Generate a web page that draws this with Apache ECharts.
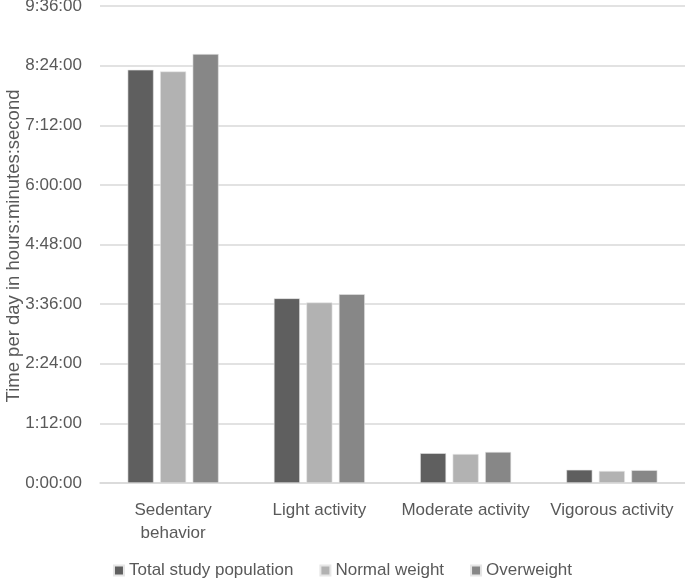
<!DOCTYPE html>
<html><head><meta charset="utf-8">
<script src="https://cdn.jsdelivr.net/npm/echarts@6/dist/echarts.min.js"></script>
<style>html,body{margin:0;padding:0;background:#fff}#c{width:685px;height:580px}</style>
</head><body><div id="c"></div>
<script>
// values in minutes per day
const categories = ['Sedentary\nbehavior', 'Light activity', 'Moderate activity', 'Vigorous activity'];
const totalPopulation = [499, 223, 36, 16];
const normalWeight = [497, 218, 35, 14.5];
const overweight = [518, 228, 37.5, 15.5];
const seriesNames = ['Total study population', 'Normal weight', 'Overweight'];
const yTitle = 'Time per day in hours:minutes:second';
const colors = ['#5f5f5f', '#b2b2b2', '#878787'];

function fmt(v) {
  const h = Math.floor(v / 60), m = Math.round(v % 60);
  return h + ':' + String(m).padStart(2, '0') + ':00';
}
const font = 'Liberation Sans';
const fs = 17;
const chart = echarts.init(document.getElementById('c'));
const mk = (name, data, i) => ({
  name, type: 'bar', data, barWidth: 26, barGap: '25%',
  itemStyle: { color: colors[i], borderColor: '#e6e6e6', borderWidth: 0.6 }
});
chart.setOption({
  animation: false,
  color: colors,
  textStyle: { fontFamily: font },
  grid: { left: 100, right: 0, top: 6, bottom: 97, containLabel: false, outerBoundsMode: 'none' },
  graphic: [{
    type: 'text', x: 14, y: 246, rotation: Math.PI / 2,
    style: { text: yTitle, fill: '#595959', fontSize: 18.5, fontFamily: font, align: 'center', verticalAlign: 'middle' }
  }],
  legend: {
    bottom: -4, left: 'center', itemWidth: 10, itemHeight: 10, itemGap: 26,
    icon: 'rect',
    textStyle: { color: '#595959', fontSize: fs, fontFamily: font },
    data: seriesNames
  },
  xAxis: {
    type: 'category', data: categories,
    axisLine: { lineStyle: { color: '#d9d9d9', width: 1.5 } },
    axisTick: { show: false },
    axisLabel: { color: '#595959', fontSize: fs, fontFamily: font, margin: 16, lineHeight: 23, interval: 0 }
  },
  yAxis: {
    type: 'value', min: 0, max: 576, interval: 72,
    axisLine: { show: false }, axisTick: { show: false },
    splitLine: { lineStyle: { color: '#d9d9d9', width: 1.5 } },
    axisLabel: { color: '#595959', fontSize: fs, fontFamily: font, margin: 18, formatter: fmt }
  },
  series: [mk(seriesNames[0], totalPopulation, 0), mk(seriesNames[1], normalWeight, 1), mk(seriesNames[2], overweight, 2)]
});
</script></body></html>
